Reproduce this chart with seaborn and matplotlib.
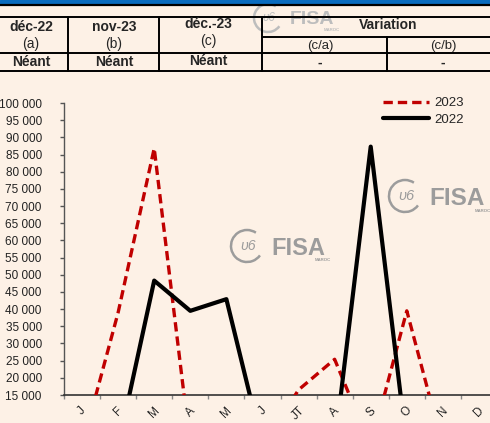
import matplotlib
matplotlib.use("Agg")
import matplotlib.pyplot as plt
import seaborn as sns
import pandas as pd
from matplotlib.patches import Arc, Rectangle
from matplotlib.lines import Line2D

# ---------------- data ----------------
months = ["J", "F", "M", "A", "M", "J", "JT", "A", "S", "O", "N", "D"]
values_2023 = [0, 39000, 86800, 0, 0, 0, 16500, 25400, 0, 39500, 0, 0]
values_2022 = [0, 0, 48300, 39500, 42900, 0, 0, 0, 87300, 0, 0, 0]
series_labels = ["2023", "2022"]
y_ticks = [15000, 20000, 25000, 30000, 35000, 40000, 45000, 50000, 55000,
           60000, 65000, 70000, 75000, 80000, 85000, 90000, 95000, 100000]
y_tick_labels = [f"{v:,}".replace(",", " ") for v in y_ticks]

header_periods = ["déc-22", "nov-23", "déc.-23"]
header_codes = ["(a)", "(b)", "(c)"]
header_values = ["Néant", "Néant", "Néant"]
variation_title = "Variation"
variation_codes = ["(c/a)", "(c/b)"]
variation_values = ["-", "-"]

# ---------------- style ----------------
W, H = 490, 423
BG = "#FDF1E6"
RED = "#C00000"
sns.set_theme(style="white")
plt.rcParams['font.family'] = ['Liberation Sans', 'DejaVu Sans']

fig = plt.figure(figsize=(W / 100, H / 100), dpi=100, facecolor=BG)


def fx(x):
    return x / W


def fy(y):
    return 1 - y / H


# ---------------- chart ----------------
ax = fig.add_axes([fx(64), 28 / H, 433 / W, 292 / H])
ax.set_facecolor(BG)

df = pd.DataFrame({
    "pos": list(range(len(months))) * 2,
    "value": values_2023 + values_2022,
    "year": [series_labels[0]] * len(months) + [series_labels[1]] * len(months),
})

sns.lineplot(data=df[df["year"] == "2023"], x="pos", y="value", ax=ax,
             color=RED, linewidth=2.4, legend=False, zorder=3)
l23 = ax.lines[-1]
l23.set_linestyle((0, (2.8, 1.5)))
sns.lineplot(data=df[df["year"] == "2022"], x="pos", y="value", ax=ax,
             color="black", linewidth=3.0, legend=False, zorder=4)

ax.set_xlim(-0.5, len(months) - 0.5)
ax.set_ylim(15000, 100000)
ax.set_xlabel("")
ax.set_ylabel("")

ax.set_yticks(y_ticks)
ax.set_yticklabels(y_tick_labels, fontsize=8.5, color="#222222")
ax.tick_params(axis="y", direction="out", length=3, width=1, color="#555555", pad=13, left=True)

ax.set_xticks([i - 0.5 for i in range(len(months) + 1)])
ax.set_xticklabels([])
ax.tick_params(axis="x", which="major", direction="out", length=3, width=1, color="#888888", bottom=True)
ax.set_xticks(list(range(len(months))), minor=True)
ax.set_xticklabels(months, minor=True, rotation=45, ha="center", va="top", fontsize=8.5, color="#222222")
ax.tick_params(axis="x", which="minor", length=0, pad=7)

for s in ["top", "right"]:
    ax.spines[s].set_visible(False)
ax.spines["left"].set_color("#555555")
ax.spines["left"].set_linewidth(1.0)
ax.spines["bottom"].set_color("#333333")
ax.spines["bottom"].set_linewidth(1.2)
ax.grid(False)

h23 = Line2D([], [], color=RED, linewidth=2.4, linestyle=(0, (2.8, 1.5)))
h22 = Line2D([], [], color="black", linewidth=3.0)
fig.legend([h23, h22], series_labels, loc="upper left",
           bbox_to_anchor=(fx(383), fy(97)), frameon=False, fontsize=9.5,
           handlelength=3.5, handletextpad=0.4, labelspacing=0.35,
           borderpad=0, borderaxespad=0)

# ---------------- watermarks ----------------
def watermark(cx, cy, r, fs, color):
    arc = Arc((fx(cx), fy(cy)), 2 * r / W, 2 * r / H, theta1=60, theta2=320,
              transform=fig.transFigure, color=color, lw=1.8, zorder=1)
    fig.add_artist(arc)
    fig.text(fx(cx + 1), fy(cy), "ʋ6", fontsize=fs * 0.6, color=color,
             ha="center", va="center", style="italic", zorder=1)
    fig.text(fx(cx + r + 8), fy(cy + 2), "FISA", fontsize=fs, color=color,
             fontweight="bold", ha="left", va="center", zorder=1)
    fig.text(fx(cx + r + 8 + fs * 3.55), fy(cy + fs * 0.85), "MAROC", fontsize=3.2,
             color=color, fontweight="bold", ha="right", va="center", zorder=1)


watermark(247, 246, 16, 17, "#9C9C9C")
watermark(405, 196, 16, 17.5, "#9C9C9C")
watermark(268, 18, 14, 14, "#BDBDBD")

# ---------------- header band & table ----------------
fig.add_artist(Rectangle((0, fy(4.5)), 1, 4.5 / H, transform=fig.transFigure,
                         color="#0A6CBF", zorder=5))
fig.add_artist(Line2D([0, 1], [fy(5.5), fy(5.5)], transform=fig.transFigure,
                      color="black", lw=1.6, zorder=5))


def hline(y, x0, x1, lw=1.4):
    fig.add_artist(Line2D([fx(x0), fx(x1)], [fy(y), fy(y)], transform=fig.transFigure,
                          color="black", lw=lw, zorder=5))


def vline(x, y0, y1, lw=1.4):
    fig.add_artist(Line2D([fx(x), fx(x)], [fy(y0), fy(y1)], transform=fig.transFigure,
                          color="black", lw=lw, zorder=5))


hline(17, 0, W)
hline(37, 262, W)
hline(53, 0, W)
hline(71, 0, W)
for xv in [68, 159, 262]:
    vline(xv, 17, 71)
vline(387, 37, 71)

FS = 10
col_centers = [31, 114, 208]
row_y = [[27, 44, 62], [27, 44, 62], [24, 41, 61]]
for i, cx in enumerate(col_centers):
    fig.text(fx(cx), fy(row_y[i][0]), header_periods[i], fontsize=FS, fontweight="bold",
             ha="center", va="center", zorder=6)
    fig.text(fx(cx), fy(row_y[i][1]), header_codes[i], fontsize=FS,
             ha="center", va="center", zorder=6)
    fig.text(fx(cx), fy(row_y[i][2]), header_values[i], fontsize=FS, fontweight="bold",
             ha="center", va="center", zorder=6)

fig.text(fx(388), fy(25), variation_title, fontsize=FS, fontweight="bold",
         ha="center", va="center", zorder=6)
for cx, code, val in zip([320, 443], variation_codes, variation_values):
    fig.text(fx(cx), fy(45.5), code, fontsize=9.5, ha="center", va="center", zorder=6)
    fig.text(fx(cx), fy(62.5), val, fontsize=FS, fontweight="bold", ha="center", va="center", zorder=6)

fig.savefig("out.png", dpi=100, facecolor=BG)
